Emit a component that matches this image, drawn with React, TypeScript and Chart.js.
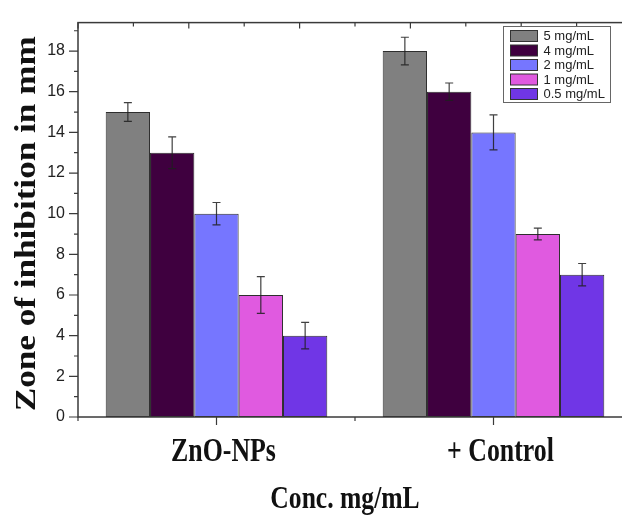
import { useEffect, useRef } from 'react';
import { Chart, registerables } from 'chart.js';

Chart.register(...registerables);

const categories = ['ZnO-NPs', '+ Control'];
const seriesLabels = ['5 mg/mL', '4 mg/mL', '2 mg/mL', '1 mg/mL', '0.5 mg/mL'];
const values5 = [15, 18];
const values4 = [13, 16];
const values2 = [10, 14];
const values1 = [6, 9];
const values05 = [4, 7];
const errors5 = [0.46, 0.68];
const errors4 = [0.78, 0.43];
const errors2 = [0.55, 0.86];
const errors1 = [0.9, 0.29];
const errors05 = [0.65, 0.55];
const seriesColors = ['#808080', '#3f003f', '#7676ff', '#e05ae0', '#7036e6'];
const yTickValues = [0, 2, 4, 6, 8, 10, 12, 14, 16, 18];
const yMinorValues = [1, 3, 5, 7, 9, 11, 13, 15, 17, 19];
const topTickStep = 0.2;
const xTitle = 'Conc. mg/mL';
const yTitle = 'Zone of inhibition in mm';

const seriesValues = [values5, values4, values2, values1, values05];
const seriesErrors = [errors5, errors4, errors2, errors1, errors05];

const decorPlugin = {
  id: 'decor',
  afterDatasetsDraw(chart: any) {
    const ctx = chart.ctx;
    const ys = chart.scales.y;
    ctx.save();
    ctx.strokeStyle = 'rgba(30,30,30,0.85)';
    ctx.lineWidth = 1.2;
    chart.data.datasets.forEach((ds: any, di: number) => {
      const meta = chart.getDatasetMeta(di);
      meta.data.forEach((el: any, i: number) => {
        const v = ds.data[i];
        const e = ds.errors[i];
        const yTop = ys.getPixelForValue(v + e);
        const yBot = ys.getPixelForValue(v - e);
        const x = el.x;
        ctx.beginPath();
        ctx.moveTo(x, yTop);
        ctx.lineTo(x, yBot);
        ctx.moveTo(x - 4, yTop);
        ctx.lineTo(x + 4, yTop);
        ctx.moveTo(x - 4, yBot);
        ctx.lineTo(x + 4, yBot);
        ctx.stroke();
      });
    });
    ctx.restore();
  },
  afterDraw(chart: any) {
    const ctx = chart.ctx;
    const xs = chart.scales.x;
    const ys = chart.scales.y;
    const a = chart.chartArea;
    ctx.save();
    // frame
    ctx.strokeStyle = '#3a3a3a';
    ctx.lineWidth = 1.5;
    ctx.strokeRect(a.left, a.top, a.right - a.left, a.bottom - a.top);
    ctx.lineWidth = 1.2;
    ctx.beginPath();
    // y ticks (outward)
    yTickValues.forEach((v) => {
      const y = ys.getPixelForValue(v);
      ctx.moveTo(a.left - 9, y);
      ctx.lineTo(a.left, y);
    });
    yMinorValues.forEach((v) => {
      if (v > ys.max) return;
      const y = ys.getPixelForValue(v);
      ctx.moveTo(a.left - 4, y);
      ctx.lineTo(a.left, y);
    });
    // bottom ticks: major at category centres, minor at boundaries
    const n = categories.length;
    for (let k = 0; k <= 2 * n; k++) {
      const v = -0.5 + k * 0.5;
      const x = xs.getPixelForValue(v);
      const major = k % 2 === 1;
      ctx.moveTo(x, a.bottom);
      ctx.lineTo(x, a.bottom + (major ? 8 : 4));
    }
    // top ticks (inward)
    let k = 0;
    for (let v = -0.5; v <= n - 0.5 + 1e-9; v += topTickStep, k++) {
      const x = xs.getPixelForValue(v);
      ctx.moveTo(x, a.top);
      ctx.lineTo(x, a.top + (k % 2 === 0 ? 6 : 4));
    }
    ctx.stroke();

    // legend
    const lx = 503.5, ly = 26.5, lw = 107, lh = 76;
    ctx.fillStyle = '#ffffff';
    ctx.fillRect(lx, ly, lw, lh);
    ctx.strokeStyle = '#666';
    ctx.lineWidth = 1;
    ctx.strokeRect(lx, ly, lw, lh);
    ctx.font = '13px "Liberation Sans", Arial, sans-serif';
    ctx.textBaseline = 'middle';
    ctx.textAlign = 'left';
    chart.data.datasets.forEach((ds: any, i: number) => {
      const cy = ly + 9.5 + i * 14.5;
      ctx.fillStyle = ds.backgroundColor;
      ctx.fillRect(lx + 7, cy - 5.5, 27, 11);
      ctx.strokeStyle = '#333';
      ctx.strokeRect(lx + 7, cy - 5.5, 27, 11);
      ctx.fillStyle = '#222';
      ctx.fillText(ds.label, lx + 40, cy + 0.5);
    });

    // x category labels
    ctx.fillStyle = '#111';
    ctx.textAlign = 'center';
    ctx.textBaseline = 'alphabetic';
    ctx.font = 'bold 34px "Liberation Serif", "Times New Roman", serif';
    chart.data.labels.forEach((c: string, i: number) => {
      const x = xs.getPixelForValue(i) + 7;
      ctx.save();
      ctx.translate(x, a.bottom + 44);
      ctx.scale(0.76, 1);
      ctx.fillText(c, 0, 0);
      ctx.restore();
    });
    // x title
    ctx.font = 'bold 32px "Liberation Serif", "Times New Roman", serif';
    ctx.save();
    ctx.translate(345, a.bottom + 91);
    ctx.scale(0.8, 1);
    ctx.fillText(xTitle, 0, 0);
    ctx.restore();
    // y title
    ctx.font = 'bold 30px "Liberation Serif", "Times New Roman", serif';
    const w = ctx.measureText(yTitle).width;
    ctx.save();
    ctx.translate(35, (a.top + a.bottom) / 2 + 4);
    ctx.rotate(-Math.PI / 2);
    ctx.scale(375 / w, 1);
    ctx.fillText(yTitle, 0, 0);
    ctx.restore();
    ctx.restore();
  },
};

export default function App() {
  const ref = useRef<HTMLCanvasElement | null>(null);
  useEffect(() => {
    document.body.style.margin = '0';
    const canvas = ref.current!;
    const chart = new Chart(canvas, {
      type: 'bar',
      data: {
        labels: categories,
        datasets: seriesLabels.map((label, si) => ({
          label,
          data: seriesValues[si],
          errors: seriesErrors[si],
          backgroundColor: seriesColors[si],
          borderColor: '#2e2e2e',
          borderWidth: 1,
          borderSkipped: false,
          categoryPercentage: 0.8,
          barPercentage: 1,
        })) as any,
      },
      options: {
        responsive: false,
        animation: false,
        layout: { padding: { top: 10, right: 8, left: 0, bottom: 0 } },
        plugins: { legend: { display: false }, tooltip: { enabled: false } },
        scales: {
          x: {
            type: 'category',
            offset: true,
            afterFit: (s: any) => {
              s.height = 98;
            },
            ticks: { display: false },
            grid: { display: false, drawTicks: false },
            border: { display: false },
          },
          y: {
            type: 'linear',
            min: 0,
            max: 19.4,
            afterBuildTicks: (s: any) => {
              s.ticks = yTickValues.map((v) => ({ value: v }));
            },
            afterFit: (s: any) => {
              s.width = 78;
            },
            ticks: {
              font: { family: '"Liberation Sans", Arial, sans-serif', size: 16 },
              color: '#222',
              padding: 13,
            },
            grid: { display: false, drawTicks: false },
            border: { display: false },
          },
        },
      } as any,
      plugins: [decorPlugin],
    });
    return () => chart.destroy();
  }, []);
  return (
    <div style={{ width: 622, height: 515, overflow: 'hidden', background: '#fff' }}>
      <canvas ref={ref} width={640} height={515} style={{ display: 'block' }} />
    </div>
  );
}
